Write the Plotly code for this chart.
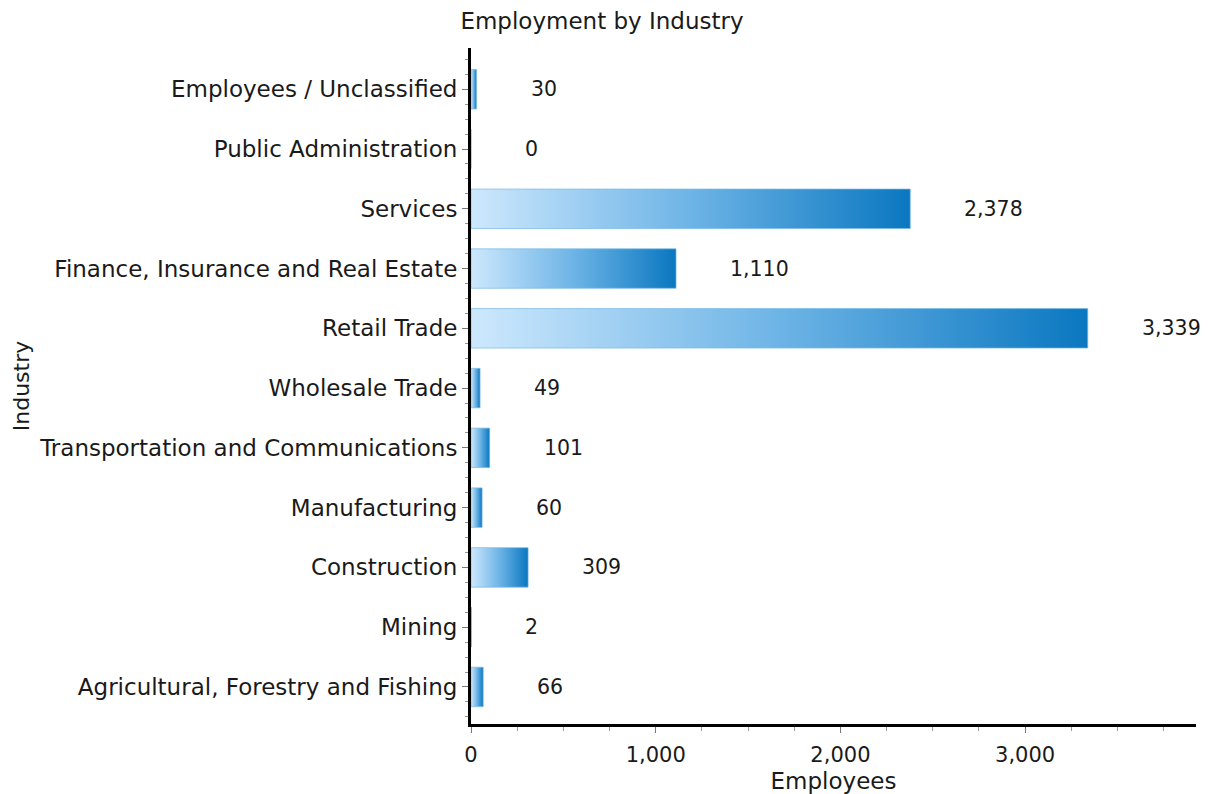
import plotly.graph_objects as go

# Data (bottom to top)
industries = [
    "Agricultural, Forestry and Fishing",
    "Mining",
    "Construction",
    "Manufacturing",
    "Transportation and Communications",
    "Wholesale Trade",
    "Retail Trade",
    "Finance, Insurance and Real Estate",
    "Services",
    "Public Administration",
    "Employees / Unclassified",
]
employees = [66, 2, 309, 60, 101, 49, 3339, 1110, 2378, 0, 30]

title_text = "Employment by Industry"
x_title = "Employees"
y_title = "Industry"
x_ticks = [0, 1000, 2000, 3000]
x_ticklabels = ["0", "1,000", "2,000", "3,000"]

FONT = "DejaVu Sans"
TXT = "#1a1a1a"
half = 0.33
W, H = 1201, 786  # page body has an 8px margin

fig = go.Figure()
positions = list(range(len(industries)))
for pos, name, v in zip(positions, industries, employees):
    fig.add_trace(go.Scatter(
        x=[0, v, v, 0, 0],
        y=[pos - half, pos - half, pos + half, pos + half, pos - half],
        mode="lines",
        fill="toself",
        line=dict(width=0.8, color="rgba(120,185,230,0.9)"),
        fillgradient=dict(
            type="horizontal",
            colorscale=[[0, "#cde8fd"], [0.5, "#6db4e6"], [1, "#0a77c0"]],
            start=0,
            stop=v if v > 0 else 1,
        ),
        name=name,
        hoverinfo="skip",
        showlegend=False,
    ))

annotations = []
for pos, v in zip(positions, employees):
    annotations.append(dict(
        x=v, y=pos, xref="x", yref="y",
        text=f"{v:,}", showarrow=False,
        xanchor="left", yanchor="middle", xshift=52,
        font=dict(family=FONT, size=20.5, color=TXT),
    ))

minor_y = [p + d for p in positions for d in (-0.5, -0.25, 0.25)] + [positions[-1] + 0.25, positions[-1] + 0.5]

fig.update_layout(
    width=W, height=H,
    margin=dict(l=463, r=13, t=40, b=70),
    paper_bgcolor="white", plot_bgcolor="white",
    font=dict(family=FONT, size=21, color=TXT),
    title=dict(text=title_text, x=(602 - 8) / W, xref="container", xanchor="center",
               y=1 - 13 / H, yref="container", yanchor="middle",
               font=dict(family=FONT, size=23, color=TXT)),
    annotations=annotations,
    xaxis=dict(
        range=[0, 3925],
        automargin=False,
        tickvals=x_ticks, ticktext=x_ticklabels,
        ticks="outside", ticklen=6, tickcolor="#777", tickwidth=1,
        ticklabelstandoff=4,
        minor=dict(dtick=250, ticks="outside", ticklen=4, tickcolor="#999"),
        showline=True, linecolor="black", linewidth=3,
        showgrid=False, zeroline=False,
        tickfont=dict(family=FONT, size=21, color=TXT),
        title=dict(text=x_title, standoff=9, font=dict(family=FONT, size=23, color=TXT)),
        fixedrange=True,
    ),
    yaxis=dict(
        range=[-0.62, 10.69],
        automargin=False,
        tickvals=positions, ticktext=industries,
        ticks="outside", ticklen=6, tickcolor="#777", tickwidth=1,
        minor=dict(tickvals=minor_y, ticks="outside", ticklen=3, tickcolor="#999"),
        showline=True, linecolor="black", linewidth=3,
        showgrid=False, zeroline=False,
        tickfont=dict(family=FONT, size=23, color=TXT),
        title=dict(text=y_title, standoff=4, font=dict(family=FONT, size=22, color=TXT)),
        fixedrange=True,
    ),
)

fig.write_html("out.html")
